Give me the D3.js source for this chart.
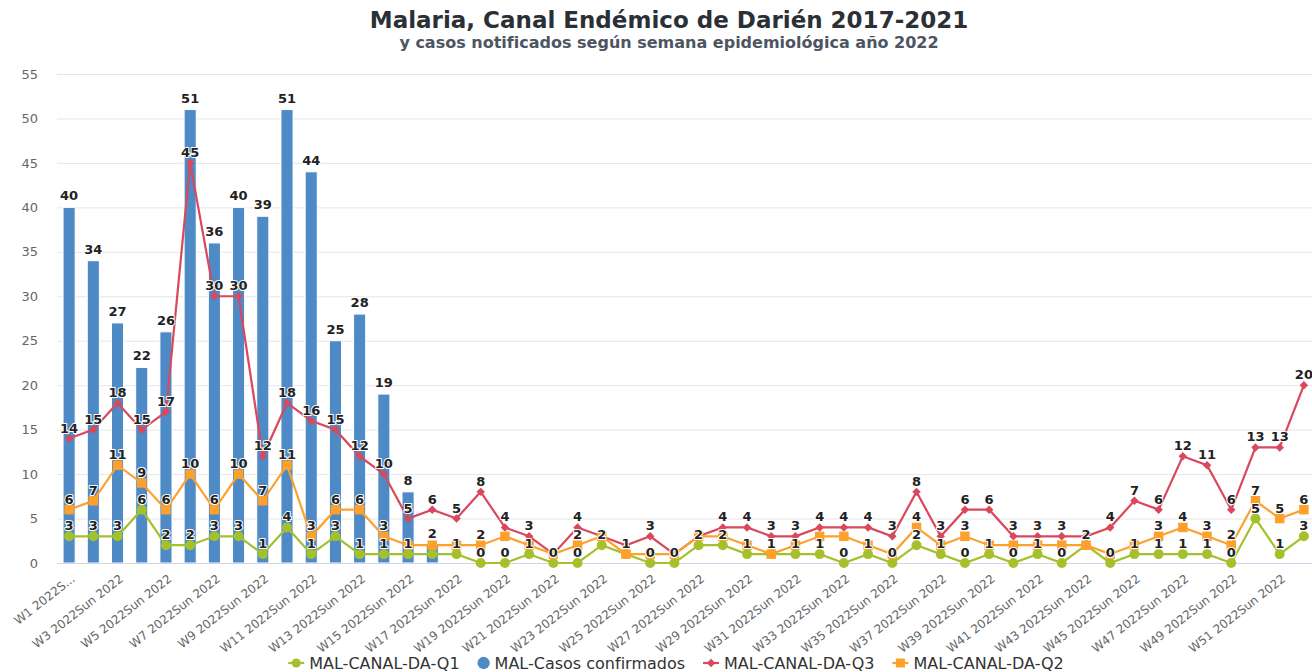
<!DOCTYPE html>
<html lang="es">
<head>
<meta charset="utf-8">
<title>Malaria, Canal Endémico de Darién 2017-2021</title>
<script src="https://cdn.jsdelivr.net/npm/d3@7"></script>
<style>
  body { margin: 0; background: #fff; }
  svg { display: block; font-family: "DejaVu Sans", sans-serif; }
</style>
</head>
<body>
<svg id="chart" width="1312" height="672"></svg>
<script>
// semanas epidemiologicas (categorias del eje x)
var weeks = d3.range(1, 53).map(function(n) { return "W" + n + " 2022Sun 2022"; });
var yTicks = [0, 5, 10, 15, 20, 25, 30, 35, 40, 45, 50, 55];

// casos confirmados 2022 (solo hasta W16)
var casos = [40, 34, 27, 22, 26, 51, 36, 40, 39, 51, 44, 25, 28, 19, 8, 2,
  null, null, null, null, null, null, null, null, null, null, null, null,
  null, null, null, null, null, null, null, null, null, null, null, null,
  null, null, null, null, null, null, null, null, null, null, null, null];

// canal endemico: cuartiles
var q1 = [3, 3, 3, 6, 2, 2, 3, 3, 1, 4, 1, 3, 1, 1, 1, 1, 1, 0, 0, 1, 0, 0, 2, 1, 0, 0,
  2, 2, 1, 1, 1, 1, 0, 1, 0, 2, 1, 0, 1, 0, 1, 0, 2, 0, 1, 1, 1, 1, 0, 5, 1, 3];
var q2 = [6, 7, 11, 9, 6, 10, 6, 10, 7, 11, 3, 6, 6, 3, 2, 2, 2, 2, 3, 2, 1, 2, 3, 1, 1, 1,
  3, 3, 2, 1, 2, 3, 3, 2, 1, 4, 2, 3, 2, 2, 2, 2, 2, 1, 2, 3, 4, 3, 2, 7, 5, 6];
var q3 = [14, 15, 18, 15, 17, 45, 30, 30, 12, 18, 16, 15, 12, 10, 5, 6, 5, 8, 4, 3, 1, 4, 3, 2, 3, 1,
  3, 4, 4, 3, 3, 4, 4, 4, 3, 8, 3, 6, 6, 3, 3, 3, 3, 4, 7, 6, 12, 11, 6, 13, 13, 20];

var colors = { q1: "#a4c12b", casos: "#4e8bc6", q3: "#d9485c", q2: "#fda12c" };

var svg = d3.select("#chart");
var plotLeft = 57, plotRight = 1316, plotTop = 74, plotBottom = 563;

var x = d3.scaleBand().domain(weeks).range([plotLeft, plotRight]);
var y = d3.scaleLinear().domain([0, 55]).range([plotBottom, plotTop]);
var bw = x.bandwidth();

// titulo
svg.append("text")
  .attr("x", 669).attr("y", 28)
  .attr("text-anchor", "middle")
  .style("font-size", "23px").style("font-weight", "bold")
  .attr("fill", "#2b2f36")
  .text("Malaria, Canal Endémico de Darién 2017-2021");
svg.append("text")
  .attr("x", 669).attr("y", 48)
  .attr("text-anchor", "middle")
  .style("font-size", "16px").style("font-weight", "bold")
  .attr("fill", "#4d5562")
  .text("y casos notificados según semana epidemiológica año 2022");

// eje y + grilla
svg.append("g")
  .attr("transform", "translate(" + plotLeft + ",0)")
  .call(d3.axisLeft(y).tickValues(yTicks).tickSize(-(plotRight - plotLeft)).tickPadding(19))
  .call(function(g) {
    g.select(".domain").remove();
    g.selectAll("line").attr("stroke", "#e6e6e6");
    g.selectAll("text").attr("fill", "#666").style("font-size", "13px")
      .style("font-family", "DejaVu Sans, sans-serif");
  });

// barras
svg.append("g").selectAll("rect")
  .data(casos.map(function(v, i) { return { v: v, w: weeks[i] }; }).filter(function(d) { return d.v != null; }))
  .enter().append("rect")
  .attr("x", function(d) { return x(d.w) + bw * 0.25; })
  .attr("width", bw * 0.5)
  .attr("y", function(d) { return y(d.v); })
  .attr("height", function(d) { return y(0) - y(d.v); })
  .attr("fill", colors.casos)
  .attr("stroke", "#fff").attr("stroke-width", 1);

// eje x
var rot = 38;
var xAxis = svg.append("g")
  .attr("transform", "translate(0," + plotBottom + ")")
  .call(d3.axisBottom(x).tickValues(weeks.filter(function(d, i) { return i % 2 === 0; })).tickSize(0).tickSizeOuter(0));
xAxis.select(".domain").attr("stroke", "#ccd6eb");
xAxis.selectAll("text")
  .attr("fill", "#666")
  .style("font-size", "12px").style("font-family", "DejaVu Sans, sans-serif")
  .attr("text-anchor", "end")
  .attr("x", 0).attr("y", 0).attr("dy", "0.35em")
  .attr("transform", "translate(4,14) rotate(-" + rot + ")")
  .each(function() {
    // recortar la etiqueta si se sale por la izquierda
    var t = d3.select(this);
    var cx = +d3.select(this.parentNode).attr("transform").match(/translate\(([-\d.]+)/)[1];
    var full = t.text();
    var cos = Math.cos(rot * Math.PI / 180);
    var n = full.length;
    while (cx + 4 - this.getComputedTextLength() * cos < 12 && n > 3) {
      n--;
      t.text(full.slice(0, n) + "...");
    }
  });

// lineas
var diamond = {
  draw: function(ctx, size) {
    var r = Math.sqrt(size) / 2;
    ctx.moveTo(0, -r); ctx.lineTo(r, 0); ctx.lineTo(0, r); ctx.lineTo(-r, 0); ctx.closePath();
  }
};
var lineSeries = [
  { key: "q1", values: q1, symbol: d3.symbolCircle, size: 78 },
  { key: "q3", values: q3, symbol: diamond, size: 72 },
  { key: "q2", values: q2, symbol: d3.symbolSquare, size: 90 }
];
var cxOf = function(i) { return x(weeks[i]) + bw / 2; };
var line = d3.line().x(function(d, i) { return cxOf(i); }).y(function(d) { return y(d); });

lineSeries.forEach(function(s) {
  var g = svg.append("g");
  g.append("path").datum(s.values)
    .attr("d", line).attr("fill", "none")
    .attr("stroke", colors[s.key]).attr("stroke-width", 2.2);
  g.selectAll("path.m").data(s.values).enter().append("path")
    .attr("class", "m")
    .attr("transform", function(d, i) { return "translate(" + cxOf(i) + "," + y(d) + ")"; })
    .attr("d", d3.symbol().type(s.symbol).size(s.size))
    .attr("fill", colors[s.key]);
});

// etiquetas de datos (se ocultan las que se solapan)
var labels = [];
casos.forEach(function(v, i) {
  if (v != null) labels.push({ t: v, x: cxOf(i), y: y(v) - 7, rank: v });
});
labels.sort(function(a, b) { return b.rank - a.rank; });
lineSeries.forEach(function(s) {
  s.values.forEach(function(v, i) { labels.push({ t: v, x: cxOf(i), y: y(v) - 6, rank: 0 }); });
});

var lg = svg.append("g");
var kept = [];
labels.forEach(function(d) {
  var t = lg.append("text")
    .attr("x", d.x).attr("y", d.y)
    .attr("text-anchor", "middle")
    .style("font-size", "13px").style("font-weight", "bold")
    .attr("fill", "#222")
    .attr("stroke", "#fff").attr("stroke-width", 2).attr("stroke-linejoin", "round")
    .attr("paint-order", "stroke")
    .text(d.t);
  var b = t.node().getBBox();
  var hit = kept.some(function(k) {
    return b.x < k.x + k.width && k.x < b.x + b.width && b.y < k.y + k.height && k.y < b.y + b.height;
  });
  if (hit) t.remove(); else kept.push(b);
});

// leyenda
var legendItems = [
  { key: "q1", name: "MAL-CANAL-DA-Q1", symbol: d3.symbolCircle, size: 64, line: true },
  { key: "casos", name: "MAL-Casos confirmados", symbol: d3.symbolCircle, size: 120, line: false },
  { key: "q3", name: "MAL-CANAL-DA-Q3", symbol: diamond, size: 72, line: true },
  { key: "q2", name: "MAL-CANAL-DA-Q2", symbol: d3.symbolSquare, size: 81, line: true }
];
var leg = svg.append("g");
var pos = 0;
legendItems.forEach(function(it) {
  var g = leg.append("g").attr("transform", "translate(" + pos + ",0)");
  var sw = it.line ? 16 : 12;
  if (it.line) {
    g.append("line").attr("x1", 0).attr("x2", sw).attr("y1", 0).attr("y2", 0)
      .attr("stroke", colors[it.key]).attr("stroke-width", 2.2);
  }
  g.append("path").attr("transform", "translate(" + sw / 2 + ",0)")
    .attr("d", d3.symbol().type(it.symbol).size(it.size)).attr("fill", colors[it.key]);
  var t = g.append("text").attr("x", sw + 5).attr("y", 0).attr("dy", "0.35em")
    .style("font-size", "16px").attr("fill", "#333").text(it.name);
  pos += sw + 5 + t.node().getComputedTextLength() + 18;
});
pos -= 18;
leg.attr("transform", "translate(" + (676 - pos / 2) + ",663)");
</script>
</body>
</html>
